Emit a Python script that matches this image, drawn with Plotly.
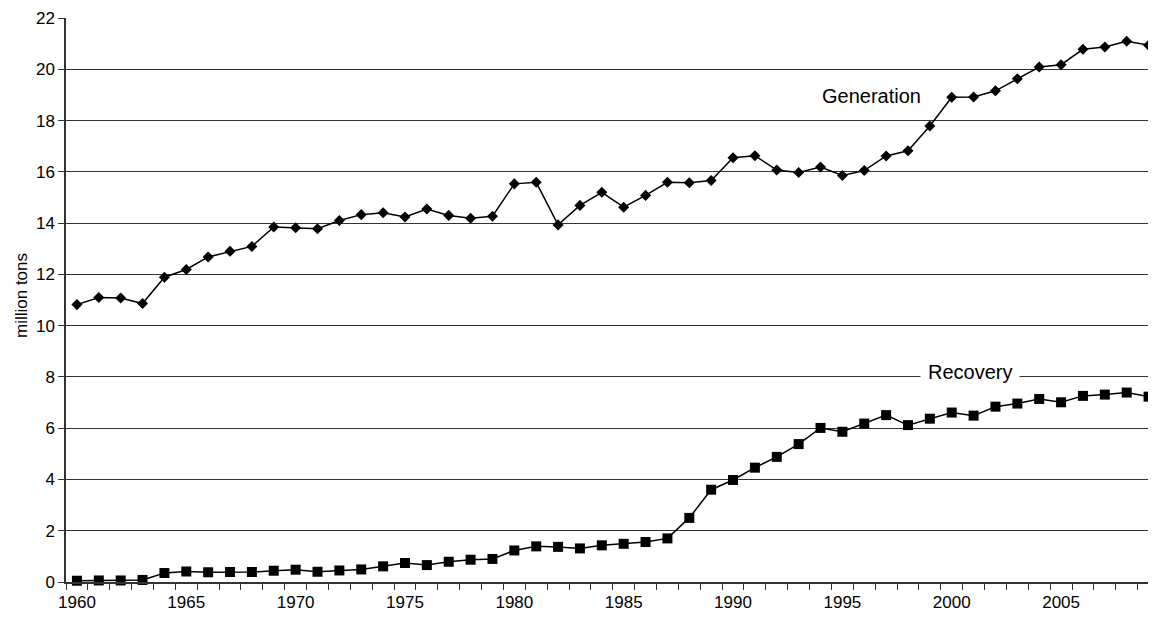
import plotly.graph_objects as go

years = list(range(1960, 2010))
generation = [10.82, 11.10, 11.08, 10.86, 11.89, 12.19, 12.68, 12.90, 13.09, 13.85,
              13.82, 13.78, 14.10, 14.33, 14.40, 14.24, 14.55, 14.30, 14.19, 14.27,
              15.53, 15.59, 13.93, 14.69, 15.20, 14.62, 15.08, 15.59, 15.57, 15.66,
              16.55, 16.63, 16.07, 15.97, 16.19, 15.86, 16.05, 16.62, 16.82, 17.79,
              18.91, 18.92, 19.16, 19.63, 20.09, 20.18, 20.78, 20.87, 21.09, 20.94]
recovery = [0.05, 0.06, 0.06, 0.08, 0.35, 0.41, 0.38, 0.39, 0.39, 0.44,
            0.48, 0.40, 0.45, 0.49, 0.61, 0.74, 0.66, 0.79, 0.87, 0.90,
            1.23, 1.39, 1.37, 1.31, 1.43, 1.49, 1.56, 1.70, 2.50, 3.60,
            3.98, 4.46, 4.88, 5.38, 6.01, 5.86, 6.18, 6.51, 6.12, 6.37,
            6.61, 6.49, 6.84, 6.96, 7.14, 7.01, 7.26, 7.31, 7.39, 7.23]
x_ticks = [1960, 1965, 1970, 1975, 1980, 1985, 1990, 1995, 2000, 2005]
y_ticks = list(range(0, 23, 2))

FONT = "Liberation Sans, Arial, sans-serif"

fig = go.Figure()
fig.add_trace(go.Scatter(
    x=years, y=generation, mode="lines+markers", name="Generation",
    line=dict(color="black", width=1.5),
    marker=dict(symbol="diamond", size=8.5, color="black"),
    cliponaxis=False,
))
fig.add_trace(go.Scatter(
    x=years, y=recovery, mode="lines+markers", name="Recovery",
    line=dict(color="black", width=1.5),
    marker=dict(symbol="square", size=10, color="black"),
    cliponaxis=False,
))

fig.add_annotation(x=1996.34, y=18.95, text="Generation", showarrow=False,
                   font=dict(family=FONT, size=20, color="black"))
fig.add_annotation(x=2000.83, y=8.2, text="Recovery", showarrow=False,
                   font=dict(family=FONT, size=20, color="black"),
                   bgcolor="white", borderpad=7)
fig.add_annotation(xref="paper", yref="paper", x=0, y=0.5, xshift=-45, yshift=4,
                   xanchor="center", yanchor="middle", borderpad=0,
                   text="million tons", textangle=-90, showarrow=False,
                   font=dict(family=FONT, size=17, color="black"))

fig.update_layout(
    width=1148, height=611,
    margin=dict(l=58, r=0, t=10, b=37),
    plot_bgcolor="white", paper_bgcolor="white",
    showlegend=False,
    font=dict(family=FONT, size=17, color="black"),
)
fig.update_xaxes(
    range=[1959.5, 2009.34],
    tickmode="array", tickvals=x_ticks, ticktext=[str(v) for v in x_ticks],
    ticks="outside", ticklen=4, tickcolor="rgba(0,0,0,0)", showgrid=False,
    showline=True, linecolor="#333", linewidth=1.5,
    minor=dict(ticks="outside", tick0=1959.5, dtick=1, ticklen=6,
               tickcolor="#333", tickwidth=1, showgrid=False),
    tickfont=dict(family=FONT, size=17, color="black"),
    zeroline=False,
)
fig.update_yaxes(
    range=[0, 22], tickmode="array", tickvals=y_ticks,
    ticks="outside", ticklen=6, tickcolor="#333",
    showgrid=True, gridcolor="#333", gridwidth=1,
    showline=True, linecolor="#333", linewidth=1.5,
    tickfont=dict(family=FONT, size=17, color="black"),
    zeroline=False,
)

fig.write_html("out.html")
